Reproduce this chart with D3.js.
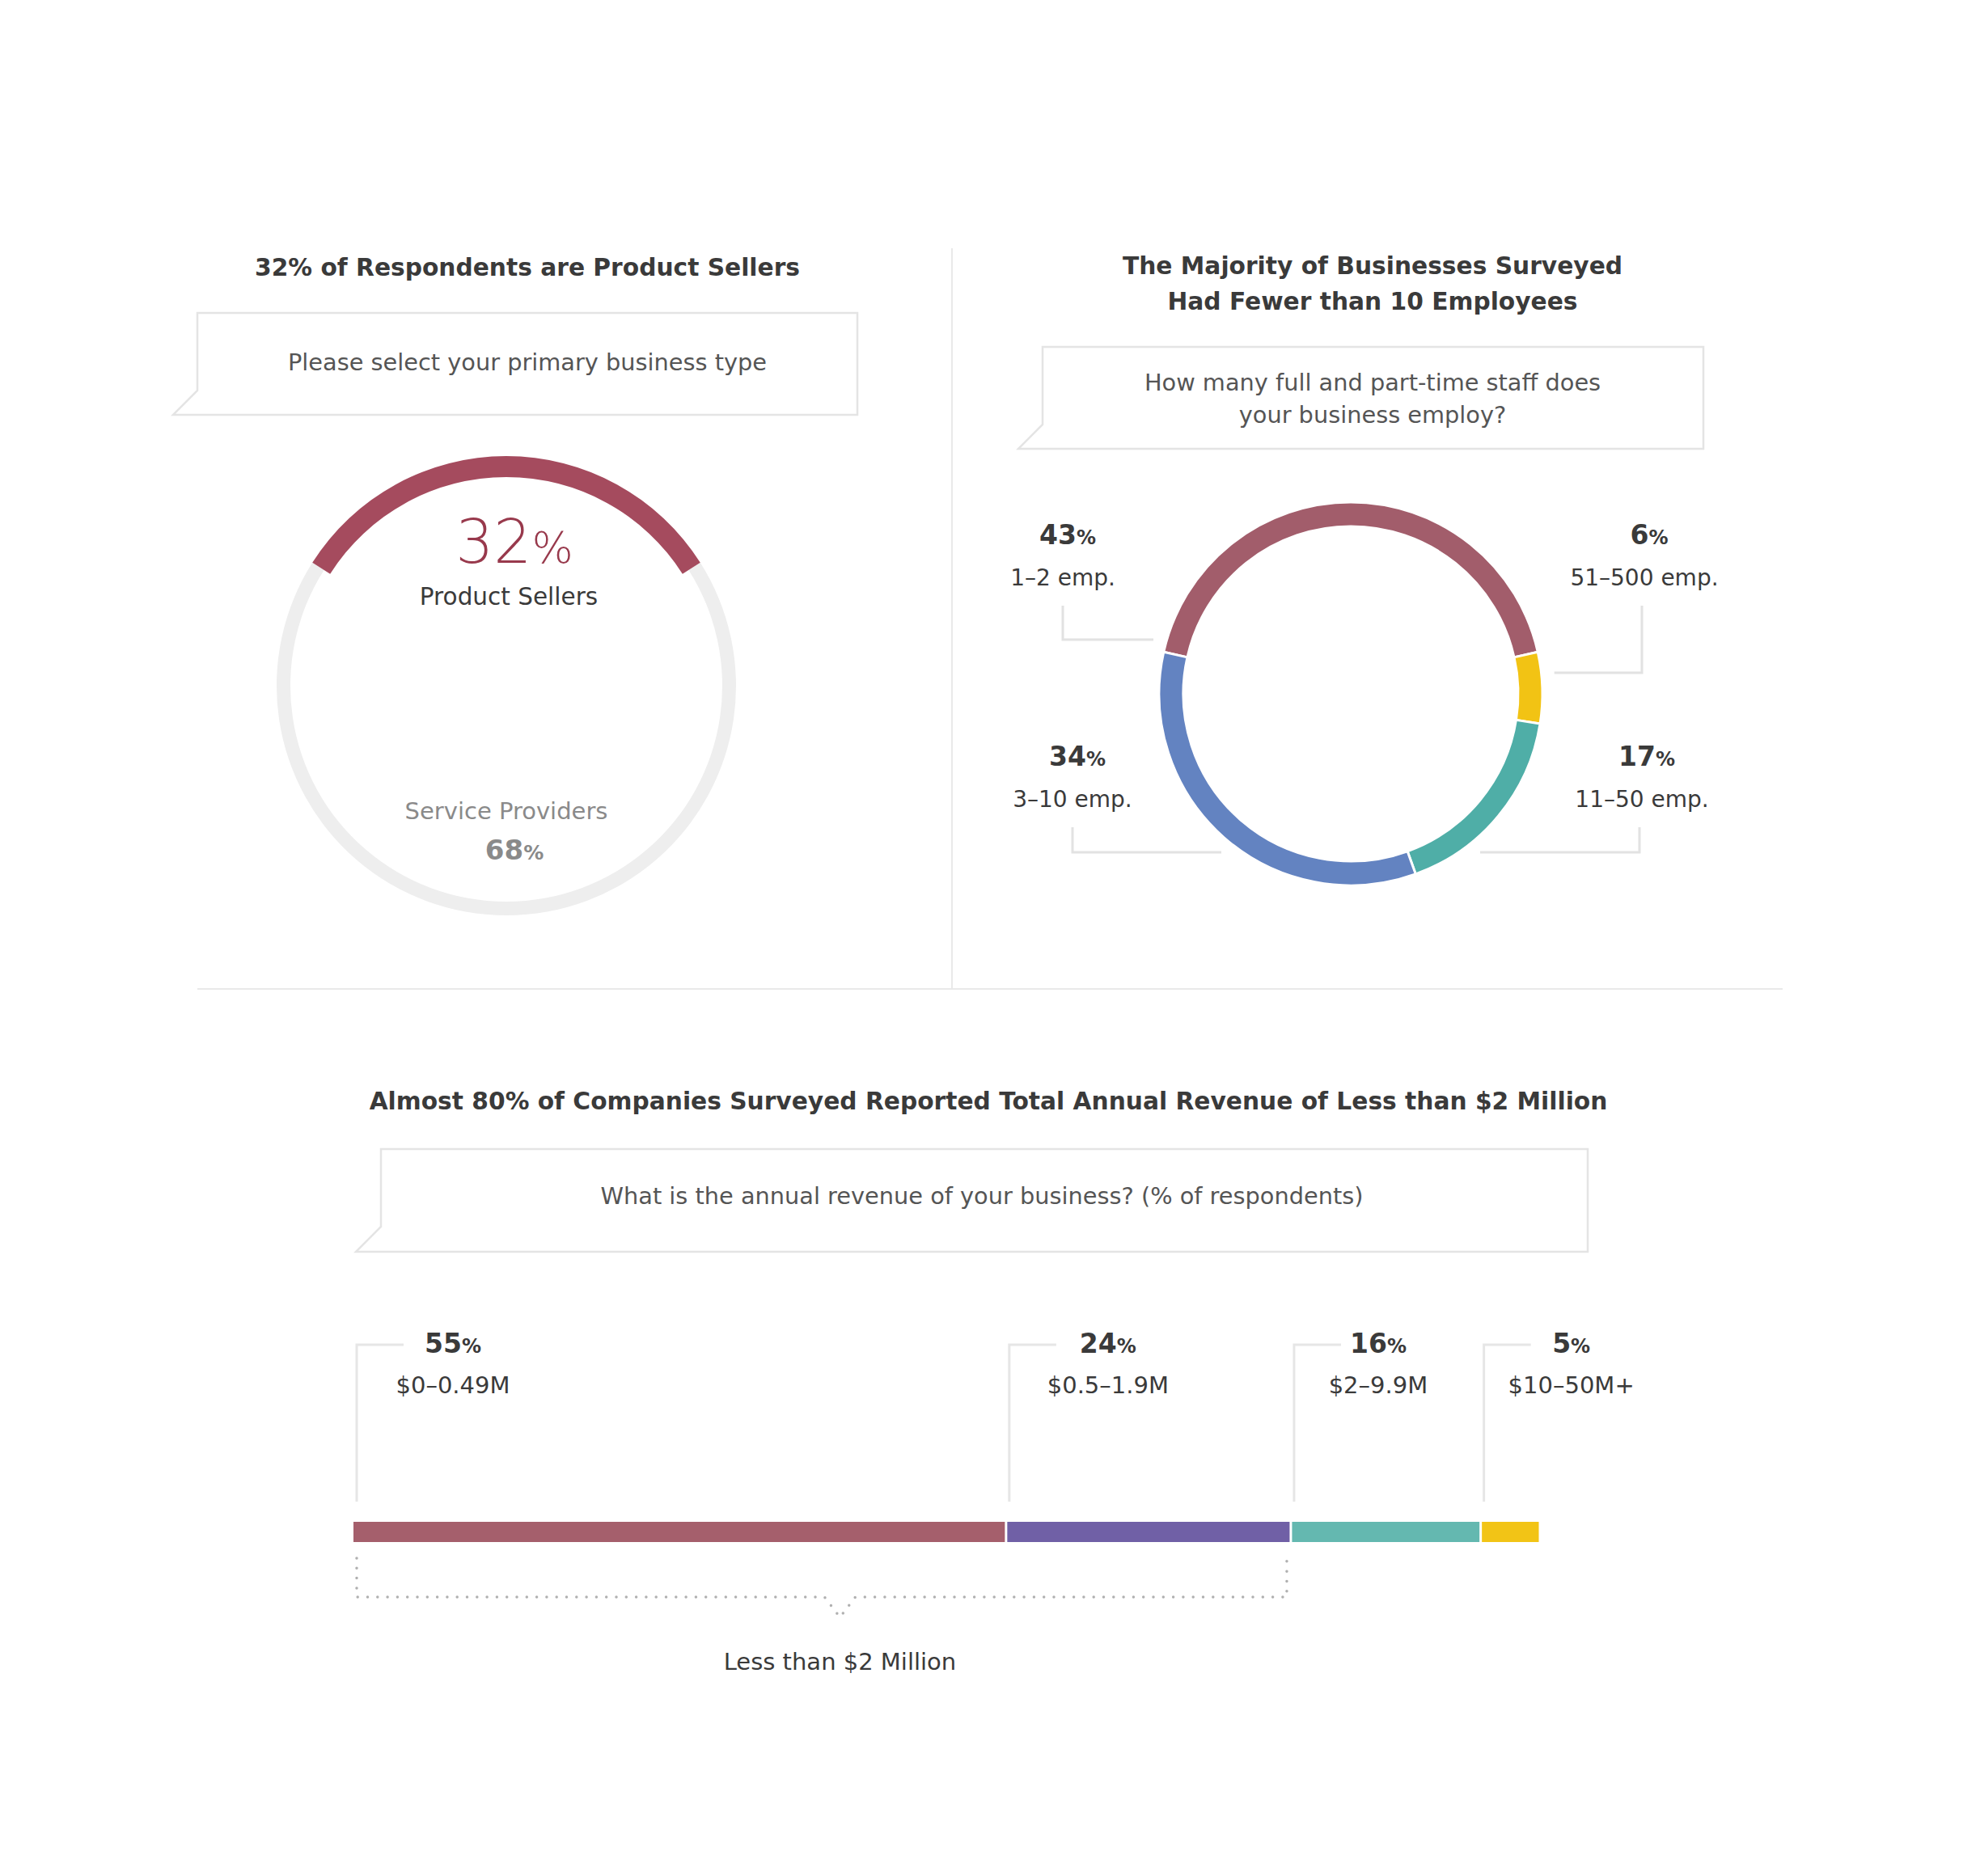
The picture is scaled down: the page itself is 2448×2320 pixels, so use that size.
<!DOCTYPE html>
<html>
<head>
<meta charset="utf-8">
<script src="https://cdn.jsdelivr.net/npm/d3@7"></script>
<style>
  body { margin: 0; background: #fff; }
  text { font-family: "DejaVu Sans", sans-serif; }
</style>
</head>
<body>
<div id="chart"></div>
<script>
// data
var typeLabels = ["Product Sellers", "Service Providers"];
var typeValues = [32, 68];

var staffLabels = ["1–2 emp.", "51–500 emp.", "11–50 emp.", "3–10 emp."];
var staffValues = [43, 6, 17, 34];
var staffColors = ["#a25d6b", "#f2c314", "#4faea7", "#6383c1"];

var revenueLabels = ["$0–0.49M", "$0.5–1.9M", "$2–9.9M", "$10–50M+"];
var revenueValues = [55, 24, 16, 5];
var revenueColors = ["#a55f6c", "#7060a6", "#64b8b0", "#f2c416"];

var width = 2448, height = 2320;
var svg = d3.select("#chart").append("svg").attr("width", width).attr("height", height);
svg.append("rect").attr("width", width).attr("height", height).attr("fill", "#fff");

var dark = "#3a3a3a";

// dividers
svg.append("line").attr("x1", 1177).attr("x2", 1177).attr("y1", 307).attr("y2", 1222)
  .attr("stroke", "#e9e9e9").attr("stroke-width", 2);
svg.append("line").attr("x1", 244).attr("x2", 2204).attr("y1", 1223).attr("y2", 1223)
  .attr("stroke", "#e9e9e9").attr("stroke-width", 2);

// question box with little tail at bottom left
function questionBox(l, t, r, b, tail, lines, cx, y0, dy) {
  var p = "M" + l + "," + t + "H" + r + "V" + b + "H" + (l - tail) + "L" + l + "," + (b - tail) + "Z";
  svg.append("path").attr("d", p).attr("fill", "#fff").attr("stroke", "#e4e4e4").attr("stroke-width", 2.5);
  lines.forEach(function(s, i) {
    svg.append("text").attr("x", cx).attr("y", y0 + i * dy).attr("text-anchor", "middle")
      .attr("font-size", 28.8).attr("fill", "#555").text(s);
  });
}

function title(lines, cx, y0, dy) {
  lines.forEach(function(s, i) {
    svg.append("text").attr("x", cx).attr("y", y0 + i * dy).attr("text-anchor", "middle")
      .attr("font-size", 29.7).attr("font-weight", "bold").attr("fill", dark).text(s);
  });
}

// number with a smaller % sign
function pct(g, x, y, v, big, small, color, weight) {
  var t = g.append("text").attr("x", x).attr("y", y).attr("text-anchor", "middle")
    .attr("fill", color).attr("font-weight", weight);
  t.append("tspan").attr("font-size", big).text(v);
  t.append("tspan").attr("font-size", small).text("%");
  return t;
}

// ---------- left: business type ----------
title(["32% of Respondents are Product Sellers"], 652, 341, 0);
questionBox(244, 387, 1060, 513, 30, ["Please select your primary business type"], 652, 458, 0);

var lc = {x: 626, y: 848};
var gLeft = svg.append("g").attr("transform", "translate(" + lc.x + "," + lc.y + ")");
var typeArc = d3.scaleLinear().domain([0, 100]).range([0, 2 * Math.PI]);
var half = typeArc(typeValues[0]) / 2;
gLeft.append("path")
  .attr("d", d3.arc().innerRadius(267).outerRadius(284).startAngle(half).endAngle(2 * Math.PI - half)())
  .attr("fill", "#eeeeee");
gLeft.append("path")
  .attr("d", d3.arc().innerRadius(258).outerRadius(284).startAngle(-half).endAngle(half)())
  .attr("fill", "#a54b5e");

pct(gLeft, 10, -152, typeValues[0], 74, 54, "#98394c", 200);
gLeft.append("text").attr("x", 3).attr("y", -100).attr("text-anchor", "middle")
  .attr("font-size", 29.5).attr("fill", dark).text(typeLabels[0]);
gLeft.append("text").attr("x", 0).attr("y", 165).attr("text-anchor", "middle")
  .attr("font-size", 29).attr("fill", "#8a8a8a").text(typeLabels[1]);
pct(gLeft, 10, 215, typeValues[1], 34, 25, "#8a8a8a", "bold");

// ---------- right: employees ----------
title(["The Majority of Businesses Surveyed", "Had Fewer than 10 Employees"], 1697, 339, 44);
questionBox(1289, 429, 2106, 555, 30,
  ["How many full and part-time staff does", "your business employ?"], 1697, 483, 40);

var rc = {x: 1670, y: 858}, R = 237, r0 = 207;
var gRight = svg.append("g").attr("transform", "translate(" + rc.x + "," + rc.y + ")");
var startA = -staffValues[0] / 100 * Math.PI;
var pie = d3.pie().sort(null).startAngle(startA).endAngle(startA + 2 * Math.PI);
var arcs = pie(staffValues);
gRight.selectAll("path.seg").data(arcs).enter().append("path").attr("class", "seg")
  .attr("d", d3.arc().innerRadius(r0).outerRadius(R))
  .attr("fill", function(d, i) { return staffColors[i]; })
  .attr("stroke", "#fff").attr("stroke-width", 3);

// callout layout: label column, baseline and elbow of each leader
var callouts = [
  {lx: -350, ly: -185, side: -1, ey: -67},   // 1-2
  {lx: 369, ly: -185, side: 1, ey: -26},     // 51-500
  {lx: 366, ly: 89, side: 1, ey: 196},       // 11-50
  {lx: -338, ly: 89, side: -1, ey: 196}      // 3-10
];
callouts.forEach(function(c, i) {
  pct(gRight, c.lx, c.ly, staffValues[i], 33, 24, dark, "bold");
  gRight.append("text").attr("x", c.lx - 6).attr("y", c.ly + 51).attr("text-anchor", "middle")
    .attr("font-size", 28).attr("fill", dark).text(staffLabels[i]);
  var vx = c.lx - (c.side < 0 ? 6 : 9);
  var ex = c.side * Math.sqrt(Math.pow(R + 16, 2) - c.ey * c.ey);
  gRight.append("path")
    .attr("d", "M" + vx + "," + (c.ly + 76) + "V" + c.ey + "H" + ex)
    .attr("fill", "none").attr("stroke", "#e2e2e2").attr("stroke-width", 3);
});

// ---------- bottom: revenue ----------
title(["Almost 80% of Companies Surveyed Reported Total Annual Revenue of Less than $2 Million"], 1222, 1372, 0);
questionBox(471, 1421, 1963, 1548, 31,
  ["What is the annual revenue of your business? (% of respondents)"], 1214, 1489, 0);

var x = d3.scaleLinear().domain([0, 100]).range([437, 1904]);
var cum = [];
revenueValues.reduce(function(a, v) { cum.push(a); return a + v; }, 0);
// label centre distance from each segment start
var labelDx = [123, 126, 108, 112];

var barY = 1882, barH = 25;
var gBar = svg.append("g");
gBar.selectAll("rect").data(revenueValues).enter().append("rect")
  .attr("x", function(d, i) { return x(cum[i]) + (i > 0 ? 1.5 : 0); })
  .attr("y", barY).attr("height", barH)
  .attr("width", function(d, i) { return x(d) - x(0) - (i > 0 ? 3 : 1.5); })
  .attr("fill", function(d, i) { return revenueColors[i]; });

revenueValues.forEach(function(v, i) {
  var x0 = x(cum[i]) + 4;
  gBar.append("path").attr("d", "M" + (x0 + 58) + ",1663H" + x0 + "V1857")
    .attr("fill", "none").attr("stroke", "#e6e6e6").attr("stroke-width", 3);
  pct(gBar, x(cum[i]) + labelDx[i], 1673, v, 33, 24, dark, "bold");
  gBar.append("text").attr("x", x(cum[i]) + labelDx[i]).attr("y", 1723).attr("text-anchor", "middle")
    .attr("font-size", 29).attr("fill", dark).text(revenueLabels[i]);
});

// dotted bracket under the first two groups
var under2 = revenueValues[0] + revenueValues[1];
var bl = x(0) + 4, br = x(under2) - 5, bm = x(41);
gBar.append("path")
  .attr("d", "M" + bl + ",1927V1975H" + (bm - 19) + "L" + bm + ",2000L" + (bm + 19) + ",1975H" + br + "V1927")
  .attr("fill", "none").attr("stroke", "#b0b0b0").attr("stroke-width", 3.5)
  .attr("stroke-linecap", "round").attr("stroke-dasharray", "0 12.3");
gBar.append("text").attr("x", bm).attr("y", 2065).attr("text-anchor", "middle")
  .attr("font-size", 29).attr("fill", dark).text("Less than $" + 2 + " Million");
</script>
</body>
</html>
